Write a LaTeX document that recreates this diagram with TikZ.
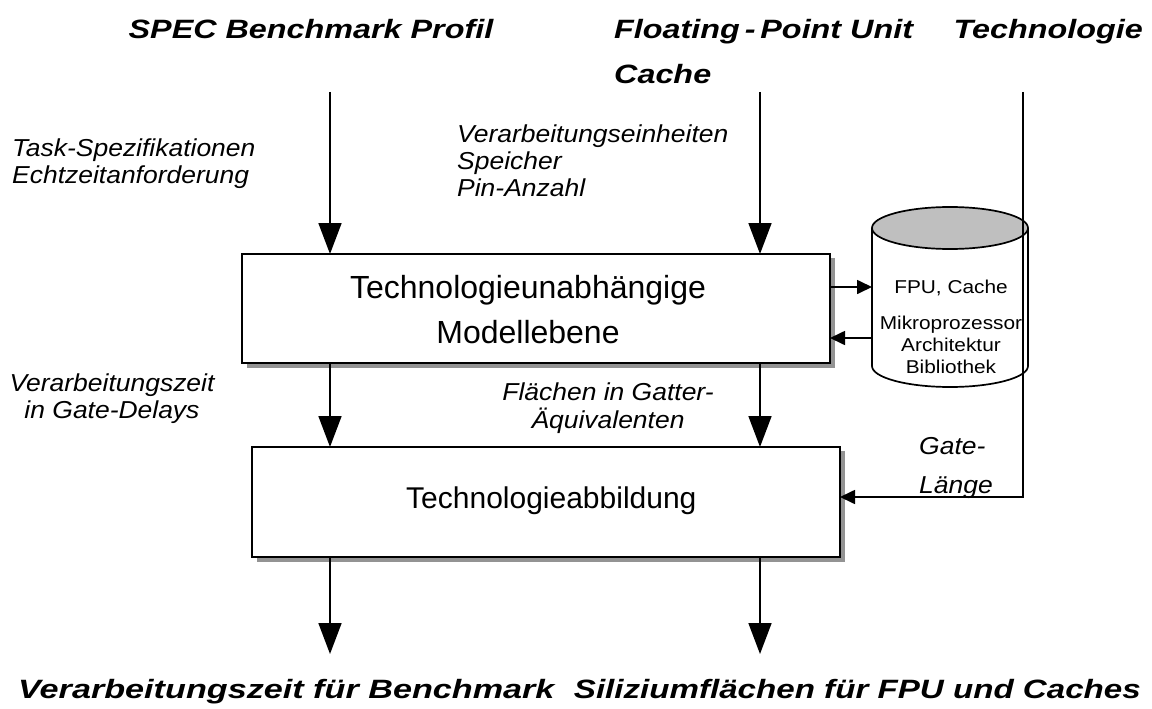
\documentclass[tikz,border=0pt]{standalone}
\usepackage{fontspec}
\usepackage{graphicx}
\setmainfont{Liberation Sans}
\usetikzlibrary{arrows.meta}
% horizontally widened text
\newcommand\wide[2]{\scalebox{#1}[1]{#2}}
\newcommand\lines[2]{\begin{tabular}[t]{@{}#1@{}}#2\end{tabular}}
\begin{document}
\begin{tikzpicture}[x=1pt,y=-1pt,
  flow/.style={line width=1.7pt,-{Triangle[length=31pt,width=23pt]}},
  flowsmall/.style={line width=1.7pt,-{Triangle[length=15pt,width=14pt]}},
  block/.style={draw,line width=1.8pt,fill=white},
  shade/.style={fill=gray!85},
  head/.style={font=\fontsize{26.5}{30}\selectfont\bfseries\itshape,inner sep=0pt},
  lbl/.style={font=\fontsize{24.5}{27.5}\selectfont\itshape,inner sep=0pt},
  boxtxt/.style={font=\fontsize{32}{42}\selectfont,inner sep=0pt},
  dbtxt/.style={font=\fontsize{18.6}{22}\selectfont,inner sep=0pt}]
\useasboundingbox (0,0) rectangle (1152,709);

% model level block with shadow
\fill[shade] (247,258) rectangle (835,368);
\draw[block] (242,254) rectangle (830,363);
\coordinate (b1tl) at (330,254);
\coordinate (b1tr) at (760,254);
\coordinate (b1bl) at (330,363);
\coordinate (b1br) at (760,363);
\node[boxtxt,anchor=base] (model1) at (528,298) {Technologieunabhängige};
\node[boxtxt,anchor=base] (model2) at (528,343) {Modellebene};

% mapping block with shadow
\fill[shade] (257,451) rectangle (845,562);
\draw[block] (252,447) rectangle (840,557);
\coordinate (b2tl) at (330,447);
\coordinate (b2tr) at (760,447);
\coordinate (b2bl) at (330,557);
\coordinate (b2br) at (760,557);
\coordinate (b2r) at (840,497);
\node[boxtxt,anchor=base west,font=\fontsize{30}{36}\selectfont] (mapping) at (406,508) {Technologieabbildung};

% library database (cylinder)
\begin{scope}[line width=1.7pt]
  \fill[white] (872,228) -- (872,366) arc[start angle=180,end angle=0,x radius=78,y radius=21] -- (1028,228) -- cycle;
  \draw (872,228) -- (872,366) arc[start angle=180,end angle=0,x radius=78,y radius=21] -- (1028,228);
  \draw[fill=gray!50] (950,228) ellipse[x radius=78,y radius=21];
\end{scope}
\coordinate (dbin) at (872,287);
\coordinate (dbout) at (872,338);
\node[dbtxt,anchor=base] (db1) at (951,293) {\wide{1.12}{FPU, Cache}};
\node[dbtxt,anchor=base] (db2) at (951,329) {\wide{1.12}{\lines{c}{Mikroprozessor\\Architektur\\Bibliothek}}};

% headings
\node[head,anchor=base] (spec) at (311,39) {\wide{1.22}{SPEC Benchmark Profil}};
\node[head,anchor=base west] (fpu) at (614,39) {\wide{1.22}{Floating\kern4pt-\kern4pt Point Unit}};
\node[head,anchor=base west] (cache) at (614,84) {\wide{1.22}{Cache}};
\node[head,anchor=base east] (tech) at (1143,39) {\wide{1.22}{Technologie}};
\node[head,anchor=base west] (outT) at (18,698) {\wide{1.29}{Verarbeitungszeit für Benchmark}};
\node[head,anchor=base east] (outA) at (1141,698) {\wide{1.25}{Siliziumflächen für FPU und Caches}};

\coordinate (specS) at (330,92);
\coordinate (fpuS) at (760,92);
\coordinate (techS) at (1023,92);
\coordinate (techC) at (1023,497);
\coordinate (outTN) at (330,654);
\coordinate (outAN) at (760,654);

% labels
\node[lbl,anchor=base west] (l1) at (12,156) {\wide{1.08}{\lines{l}{Task-Spezifikationen\\Echtzeitanforderung}}};
\node[lbl,anchor=base west] (l2) at (457,142) {\wide{1.08}{\lines{l}{Verarbeitungseinheiten\\Speicher\\Pin-Anzahl}}};
\node[lbl,anchor=base] (l3) at (112,391) {\wide{1.08}{\lines{c}{Verarbeitungszeit\\in Gate-Delays}}};
\node[lbl,anchor=base] (l4) at (608,400) {\wide{1.08}{\lines{c}{Flächen in Gatter-\\Äquivalenten}}};
\node[lbl,anchor=base west] (l6) at (919,454) {\wide{1.08}{Gate-}};
\node[lbl,anchor=base west] (l7) at (919,493) {\wide{1.08}{Länge}};

% connectors
\draw[flow] (specS) -- (b1tl);
\draw[flow] (fpuS) -- (b1tr);
\draw[flow] (b1bl) -- (b2tl);
\draw[flow] (b1br) -- (b2tr);
\draw[flow] (b2bl) -- (outTN);
\draw[flow] (b2br) -- (outAN);
\draw[flowsmall] (techS) -- (techC) -- (b2r);
\draw[flowsmall] (830,287) -- (dbin);
\draw[flowsmall] (dbout) -- (830,338);
\end{tikzpicture}
\end{document}
